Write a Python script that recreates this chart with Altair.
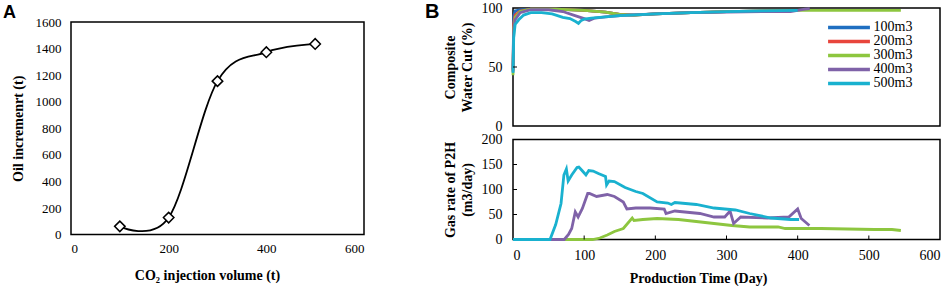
import altair as alt
import pandas as pd

# ---------------- Panel A data ----------------
co2_volume = [100, 200, 300, 400, 500]
oil_increment = [62, 128, 1155, 1373, 1435]

# ---------------- Panel B data ----------------
series_names = ["100m3", "200m3", "300m3", "400m3", "500m3"]
series_colors = ["#1f6fc1", "#e8453c", "#8dc63f", "#7f62a8", "#19b1cf"]

# Composite water cut (%)
wc_100_day = [0, 1, 3, 10, 25, 60, 100, 130, 150, 170, 200, 250, 300, 390]
wc_100_val = [48, 93, 97.5, 98.5, 99, 99, 98, 96.5, 94.5, 94, 95, 96, 97, 97.9]
wc_200_day = [0, 1, 3, 10, 25, 60, 100, 130, 150, 170, 200, 250, 300, 390]
wc_200_val = [47, 87, 94, 97.5, 99, 99, 98, 96.5, 94.5, 94, 95, 96, 97, 97.9]
wc_300_day = [0, 1, 3, 10, 25, 60, 100, 130, 150, 170, 200, 250, 300, 400, 545]
wc_300_val = [43, 82, 92, 97, 99, 99, 98, 96.5, 94.5, 94, 95, 96, 97, 98, 98]
wc_400_day = [0, 1, 3, 10, 25, 50, 70, 85, 100, 107, 115, 130, 160, 200, 250, 300, 350, 390, 400, 410, 417]
wc_400_val = [46, 80, 90, 96, 98.5, 98.5, 97, 94, 91, 89.5, 91.5, 92.5, 94, 95, 96, 96.5, 97, 97, 98, 99, 99.5]
wc_500_day = [0, 1, 3, 8, 15, 25, 40, 55, 70, 80, 88, 92, 96, 100, 110, 130, 150, 200, 250, 300, 350, 400]
wc_500_val = [45, 75, 86, 90, 94, 96, 96, 95, 92, 91, 88.5, 87, 89.5, 90.5, 91.5, 92.5, 93.5, 95, 96, 97, 97.5, 98]

# Gas rate of P2H (m3/day)
gas_300_day = [0, 112, 122, 132.5, 142.5, 155, 167.5, 170, 182.5, 202.5, 232.5, 257.5, 282.5, 307.5,
               332.5, 372.5, 382.5, 432.5, 507.5, 532.5, 545]
gas_300_val = [0, 0, 3, 9, 16, 22, 43, 38, 40, 42, 40, 36, 32, 28, 25, 25, 22, 22, 20, 20, 18]
gas_400_day = [0, 72, 78, 82.5, 87.5, 91.5, 97.5, 105, 107.5, 117.5, 132.5, 142.5, 155, 160, 172.5,
               192.5, 212.5, 215, 227.5, 262.5, 282.5, 297.5, 305, 310, 320, 357.5, 387.5, 400, 405, 416.5]
gas_400_val = [0, 0, 10, 22, 55, 45, 62, 92, 92, 86, 90, 86, 75, 61, 63, 63, 61, 52, 57, 52, 45, 45,
               57, 32, 45, 43, 45, 61, 42, 28]
gas_500_day = [0, 52, 60, 67.5, 71.5, 75, 77.5, 82.5, 90, 92.5, 97, 102.5, 106.5, 112.5, 120, 130,
               131.5, 135, 142.5, 157.5, 172.5, 182.5, 202.5, 217.5, 222.5, 227.5, 257.5, 282.5,
               312.5, 332.5, 362.5, 390, 402]
gas_500_val = [0, 0, 30, 72, 129, 141, 117, 129, 144, 145, 138, 129, 138, 137, 132, 126, 109, 117,
               116, 104, 96, 92, 75, 73, 70, 74, 70, 63, 59, 52, 43, 40, 40]

# tick positions of panel B (inward tick marks)
b_top_yticks = [50]
b_bot_yticks = [50, 100, 150]
b_bot_xticks = [100, 200, 300, 400, 500]

SERIF = "Liberation Serif"
SANS = "Liberation Sans"


def build(pairs):
    rows = []
    for name, days, vals in pairs:
        for d, v in zip(days, vals):
            rows.append({"series": name, "day": d, "value": v})
    return pd.DataFrame(rows)


wc_df = build([
    ("100m3", wc_100_day, wc_100_val),
    ("200m3", wc_200_day, wc_200_val),
    ("300m3", wc_300_day, wc_300_val),
    ("400m3", wc_400_day, wc_400_val),
    ("500m3", wc_500_day, wc_500_val),
])
gas_df = build([
    ("300m3", gas_300_day, gas_300_val),
    ("400m3", gas_400_day, gas_400_val),
    ("500m3", gas_500_day, gas_500_val),
])
a_df = pd.DataFrame({"co2": co2_volume, "oil": oil_increment})

frame = alt.ViewBackground(stroke="black", strokeWidth=1.5)
noframe = alt.ViewBackground(stroke="transparent")

# ---------------- Panel A ----------------
a_x = alt.X("co2:Q", scale=alt.Scale(domain=[0, 600], nice=False),
            axis=alt.Axis(values=[0, 200, 400, 600], title="CO₂ injection volume (t)",
                          grid=False, ticks=False, domain=False,
                          labelFont=SERIF, labelFontSize=13, labelPadding=8, labelColor="black",
                          titleFont=SERIF, titleFontSize=14, titleFontWeight="bold",
                          titleX=136, titleY=41, titleBaseline="middle", titleColor="black"))
a_y = alt.Y("oil:Q", scale=alt.Scale(domain=[0, 1600], nice=False),
            axis=alt.Axis(values=list(range(0, 1601, 200)), title="Oil incremenrt (t)", format="d",
                          grid=False, ticks=False, domain=False,
                          labelFont=SERIF, labelFontSize=13, labelPadding=10, labelColor="black",
                          titleFont=SERIF, titleFontSize=14, titleFontWeight="bold",
                          titleX=-53, titleBaseline="middle", titleColor="black"))

a_line = alt.Chart(a_df).mark_line(color="black", strokeWidth=1.8, interpolate="cardinal").encode(x=a_x, y=a_y)
a_pts = alt.Chart(a_df).mark_point(shape="diamond", size=110, filled=True, fill="white",
                                   stroke="black", strokeWidth=1.5, opacity=1).encode(x=a_x, y=a_y)
panel_a = alt.layer(a_line, a_pts).properties(width=293, height=212.6, view=frame)

# strip above panel A holding the panel letter (keeps panel A lower than panel B)
a_letter = alt.Chart(pd.DataFrame({"panel": ["A"]})).mark_text(
    align="left", baseline="alphabetic", font=SANS, fontSize=18, fontWeight="bold", color="black"
).encode(text="panel:N", x=alt.value(-68), y=alt.value(10.3)).properties(
    width=293, height=13.7, view=noframe)

col_a = alt.vconcat(a_letter, panel_a, spacing=0, bounds="flush")

# ---------------- Panel B ----------------
color_scale = alt.Scale(domain=series_names, range=series_colors)


def y_axis(values, title):
    return alt.Axis(values=values, title=title,
                    grid=False, ticks=False, domain=False,
                    labelFont=SERIF, labelFontSize=14, labelPadding=11, labelColor="black",
                    titleFont=SERIF, titleFontSize=14, titleFontWeight="bold",
                    titleLineHeight=17, titleX=-63, titleBaseline="middle", titleColor="black")


b_top_y = alt.Y("value:Q", scale=alt.Scale(domain=[0, 100], nice=False),
                axis=y_axis([0, 50, 100], ["Composite", "Water Cut (%)"]))
b_top_lines = alt.Chart(wc_df).mark_line(strokeWidth=2.8).encode(
    x=alt.X("day:Q", scale=alt.Scale(domain=[0, 600], nice=False), axis=None),
    y=b_top_y,
    color=alt.Color("series:N", scale=color_scale,
                    legend=alt.Legend(orient="none", legendX=329, legendY=12.4, title=None,
                                      symbolType="M-4.65,0H4.65", symbolSize=81,
                                      symbolStrokeWidth=3.5, labelFont=SERIF, labelFontSize=14,
                                      labelColor="black", labelOffset=17.6, padding=0,
                                      rowPadding=0)),
)
b_top_ticks = alt.Chart(pd.DataFrame({"value": b_top_yticks})).mark_rule(
    color="black", strokeWidth=1).encode(x=alt.value(0), x2=alt.value(4), y=b_top_y)
b_letter = alt.Chart(pd.DataFrame({"panel": ["B"]})).mark_text(
    align="left", baseline="alphabetic", font=SANS, fontSize=20, fontWeight="bold", color="black"
).encode(text="panel:N", x=alt.value(-88), y=alt.value(10))

panel_b_top = alt.layer(b_top_lines, b_top_ticks, b_letter).properties(width=427, height=118, view=frame)

b_bot_x = alt.X("day:Q", scale=alt.Scale(domain=[0, 600], nice=False),
                axis=alt.Axis(values=list(range(0, 601, 100)), title="Production Time (Day)",
                              grid=False, ticks=False, domain=False,
                              labelFont=SERIF, labelFontSize=14, labelPadding=9, labelColor="black",
                              titleFont=SERIF, titleFontSize=14, titleFontWeight="bold",
                              titleX=185, titleY=39, titleBaseline="middle", titleColor="black"))
b_bot_y = alt.Y("value:Q", scale=alt.Scale(domain=[0, 200], nice=False),
                axis=y_axis([0, 50, 100, 150, 200], ["Gas rate of P2H", "(m3/day)"]))

b_bot_lines = alt.Chart(gas_df).mark_line(strokeWidth=2.8).encode(
    x=b_bot_x, y=b_bot_y,
    color=alt.Color("series:N", scale=color_scale, legend=None),
)
b_bot_yt = alt.Chart(pd.DataFrame({"value": b_bot_yticks})).mark_rule(
    color="black", strokeWidth=1).encode(x=alt.value(0), x2=alt.value(4), y=b_bot_y)
b_bot_xt = alt.Chart(pd.DataFrame({"day": b_bot_xticks})).mark_rule(
    color="black", strokeWidth=1).encode(x=b_bot_x, y=alt.value(100), y2=alt.value(96))

panel_b_bottom = alt.layer(b_bot_lines, b_bot_yt, b_bot_xt).properties(width=427, height=100, view=frame)

col_b = alt.vconcat(panel_b_top, panel_b_bottom, spacing=13.5, bounds="flush").resolve_legend(
    color="independent").resolve_scale(color="independent")

chart = alt.concat(col_a, col_b, columns=2, align="none", spacing=59).properties(
    padding={"left": 2, "top": 0, "right": 0, "bottom": 0},
    background="white",
)

chart.save("out.html", embed_options={"renderer": "svg", "actions": False})
